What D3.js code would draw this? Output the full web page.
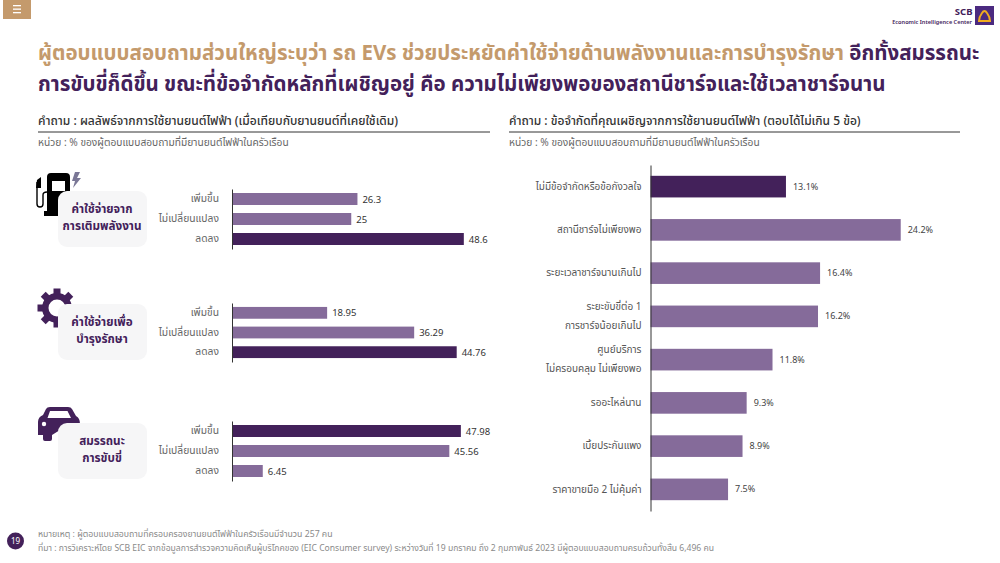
<!DOCTYPE html>
<html>
<head>
<meta charset="utf-8">
<script src="https://cdn.jsdelivr.net/npm/d3@7"></script>
<style>
  html, body { margin: 0; padding: 0; background: #fff; }
  text { font-family: "Noto Sans", "Noto Sans Thai", "Open Sans", "DejaVu Sans", sans-serif; }
</style>
</head>
<body>
<main></main>
<script>
const width = 1000;
const height = 563;
const dark = '#43215a';
const light = '#856b9a';
const gold = '#c49a6c';

// left charts
const changeLabels = ['เพิ่มขึ้น', 'ไม่เปลี่ยนแปลง', 'ลดลง'];
const energyValues = [26.3, 25, 48.6];
const maintValues = [18.95, 36.29, 44.76];
const driveValues = [47.98, 45.56, 6.45];

// right chart
const limitLabels = [
  ['ไม่มีข้อจำกัดหรือข้อกังวลใจ'],
  ['สถานีชาร์จไม่เพียงพอ'],
  ['ระยะเวลาชาร์จนานเกินไป'],
  ['ระยะขับขี่ต่อ 1', 'การชาร์จน้อยเกินไป'],
  ['ศูนย์บริการ', 'ไม่ครอบคลุม ไม่เพียงพอ'],
  ['รออะไหล่นาน'],
  ['เบี้ยประกันแพง'],
  ['ราคาขายมือ 2 ไม่คุ้มค่า']
];
const limitValues = [13.1, 24.2, 16.4, 16.2, 11.8, 9.3, 8.9, 7.5];

const svg = d3.select('main').append('svg')
  .attr('width', width)
  .attr('height', height)
  .style('display', 'block');

const addText = (x, y, str, size, fill, weight, anchor) => {
  return svg.append('text')
    .attr('x', x).attr('y', y)
    .attr('font-size', size)
    .attr('fill', fill)
    .attr('font-weight', weight || 400)
    .attr('text-anchor', anchor || 'start')
    .text(str);
};

const createHeader = () => {
  svg.append('rect').attr('x', 3).attr('width', 28).attr('height', 19).attr('fill', gold);
  [5, 8.5, 12].forEach(y => {
    svg.append('rect').attr('x', 13).attr('y', y).attr('width', 8).attr('height', 1.3).attr('fill', '#fff');
  });

  addText(972.5, 15, 'SCB', 9.5, dark, 700, 'end');
  addText(972, 23.5, 'Economic Intelligence Center', 5.6, dark, 600, 'end');
  svg.append('rect').attr('x', 975).attr('y', 6).attr('width', 19).attr('height', 19).attr('fill', '#4b2a80');
  svg.append('path')
    .attr('d', 'M979 21 Q979 17 982 13 Q984.5 9 987 13 Q990 17 990 21 Z')
    .attr('fill', 'none').attr('stroke', '#f0ab1e').attr('stroke-width', 2);

  const t1 = addText(38, 60, 'ผู้ตอบแบบสอบถามส่วนใหญ่ระบุว่า รถ EVs ช่วยประหยัดค่าใช้จ่ายด้านพลังงานและการบำรุงรักษา ', 20.5, gold, 700);
  t1.append('tspan').attr('fill', dark).text('อีกทั้งสมรรถนะ');
  addText(38, 90.5, 'การขับขี่ก็ดีขึ้น ขณะที่ข้อจำกัดหลักที่เผชิญอยู่ คือ ความไม่เพียงพอของสถานีชาร์จและใช้เวลาชาร์จนาน', 20.5, dark, 700);

  addText(38, 125, 'คำถาม : ผลลัพธ์จากการใช้ยานยนต์ไฟฟ้า (เมื่อเทียบกับยานยนต์ที่เคยใช้เดิม)', 12.05, '#333', 500);
  addText(509, 125, 'คำถาม : ข้อจำกัดที่คุณเผชิญจากการใช้ยานยนต์ไฟฟ้า (ตอบได้ไม่เกิน 5 ข้อ)', 12, '#333', 500);
  svg.append('line').attr('x1', 38).attr('x2', 490).attr('y1', 132).attr('y2', 132).attr('stroke', '#333');
  svg.append('line').attr('x1', 509).attr('x2', 960).attr('y1', 132).attr('y2', 132).attr('stroke', '#333');
  addText(38, 146, 'หน่วย : % ของผู้ตอบแบบสอบถามที่มียานยนต์ไฟฟ้าในครัวเรือน', 10.2, '#666');
  addText(509, 146, 'หน่วย : % ของผู้ตอบแบบสอบถามที่มียานยนต์ไฟฟ้าในครัวเรือน', 10.2, '#666');
};

const createFooter = () => {
  svg.append('circle').attr('cx', 15.5).attr('cy', 541).attr('r', 8.5).attr('fill', dark);
  addText(15.5, 544, '19', 8, '#fff', 400, 'middle');
  addText(38, 537, 'หมายเหตุ : ผู้ตอบแบบสอบถามที่ครอบครองยานยนต์ไฟฟ้าในครัวเรือนมีจำนวน 257 คน', 8.7, '#8a8a8a');
  addText(38, 551, 'ที่มา : การวิเคราะห์โดย SCB EIC จากข้อมูลการสำรวจความคิดเห็นผู้บริโภคของ (EIC Consumer survey) ระหว่างวันที่ 19 มกราคม ถึง 2 กุมภาพันธ์ 2023 มีผู้ตอบแบบสอบถามครบถ้วนทั้งสิ้น 6,496 คน', 8.6, '#8a8a8a');
};

// each small chart has its own x scale, the maintenance one runs a bit wider
const createSmallChart = (values, top, bottom, xEnd) => {
  const x = d3.scaleLinear().domain([0, 50]).range([232, xEnd]);
  const y = d3.scaleBand().domain(changeLabels).range([top, bottom]).paddingInner(0.4).paddingOuter(0.2);
  const maxV = d3.max(values);
  const g = svg.append('g');

  g.selectAll('rect').data(values).enter().append('rect')
    .attr('x', x(0))
    .attr('y', (d, i) => y(changeLabels[i]))
    .attr('width', d => x(d) - x(0))
    .attr('height', y.bandwidth())
    .attr('fill', d => d === maxV ? dark : light);

  g.selectAll('.val').data(values).enter().append('text')
    .attr('class', 'val')
    .attr('x', d => x(d) + 5)
    .attr('y', (d, i) => y(changeLabels[i]) + y.bandwidth() / 2 + 3.5)
    .attr('font-size', 9.5)
    .attr('fill', '#333')
    .text(d => d);

  const axis = svg.append('g')
    .attr('transform', 'translate(' + x(0) + ',0)')
    .call(d3.axisLeft(y).tickSize(0).tickPadding(13));
  axis.select('.domain').attr('stroke', '#333').attr('stroke-width', 1);
  axis.selectAll('text').attr('font-size', 10.3).attr('fill', '#666').attr('font-family', null);
};

const createLimitChart = () => {
  const x = d3.scaleLinear().domain([0, 25]).range([650.5, 909]);
  const y = d3.scaleBand().domain(d3.range(limitValues.length)).range([165, 511]).paddingInner(0.5).paddingOuter(0.25);
  const maxIndex = 0;

  svg.selectAll('.limit').data(limitValues).enter().append('rect')
    .attr('class', 'limit')
    .attr('x', x(0))
    .attr('y', (d, i) => y(i))
    .attr('width', d => x(d) - x(0))
    .attr('height', y.bandwidth())
    .attr('fill', (d, i) => i === maxIndex ? dark : light);

  svg.selectAll('.limitVal').data(limitValues).enter().append('text')
    .attr('class', 'limitVal')
    .attr('x', d => x(d) + 7)
    .attr('y', (d, i) => y(i) + y.bandwidth() / 2 + 3)
    .attr('font-size', 9)
    .attr('fill', '#444')
    .text(d => d + '%');

  const axis = svg.append('g')
    .attr('transform', 'translate(' + x(0) + ',0)')
    .call(d3.axisLeft(y).tickSize(0).tickPadding(9).tickFormat(''));
  axis.select('.domain').attr('stroke', '#333').attr('stroke-width', 1);

  axis.selectAll('.tick text').each(function (d) {
    const lines = limitLabels[d];
    const sel = d3.select(this).attr('font-size', 10).attr('fill', '#555').attr('font-family', null);
    lines.forEach((line, k) => {
      sel.append('tspan')
        .attr('x', -9)
        .attr('y', lines.length === 1 ? 0 : (k === 0 ? -9.5 : 9.5))
        .attr('dy', '0.32em')
        .text(line);
    });
  });
};

// category boxes and their icons
const createBox = (y, lines) => {
  svg.append('rect').attr('x', 58).attr('y', y).attr('width', 89).attr('height', 56).attr('rx', 9).attr('fill', '#f6f6f7');
  lines.forEach((line, i) => {
    addText(102, y + 22 + i * 17, line, 11.7, dark, 700, 'middle');
  });
};

const createIcons = () => {
  // pump
  svg.append('path')
    .attr('d', 'M47 177 Q47 173 51 173 H66 Q70 173 70 177 V211 H74 V216 H44 V211 H47 Z M52 181 V191 H65 V181 Z')
    .attr('fill', '#000').attr('fill-rule', 'evenodd');
  svg.append('path')
    .attr('d', 'M37 182 V204 Q37 207 40 207 Q43 207 43 204 V195 Q43 192 47 192')
    .attr('fill', 'none').attr('stroke', '#000').attr('stroke-width', 1.4);
  svg.append('path').attr('d', 'M37 180 L41 177 L41 188 L36 188 Z').attr('fill', '#000');
  svg.append('path').attr('d', 'M75 172 L80 172 L77 178 L81 178 L73 188 L75 181 L72 181 Z').attr('fill', '#7a7796');

  // gear
  const gearPath = d3.arc().innerRadius(8.5).outerRadius(15).startAngle(0).endAngle(2 * Math.PI);
  const gear = svg.append('g').attr('transform', 'translate(57,308)');
  gear.append('path').attr('d', gearPath()).attr('fill', dark);
  d3.range(8).forEach(i => {
    gear.append('rect').attr('x', -3.5).attr('y', -19.5).attr('width', 7).attr('height', 6)
      .attr('fill', dark).attr('transform', 'rotate(' + i * 45 + ')');
  });

  // car
  svg.append('path')
    .attr('d', 'M38 422 Q38 417 43 415 L46 409 Q47 407 50 407 H68 Q71 407 72 409 L76 416 Q80 418 80 424 V430 H60 L52 435 V439 Q52 441 50 441 H45 Q43 441 43 439 V435 H38 Z M50 411 L47.5 418 H71 L67.5 411 Z')
    .attr('fill', dark).attr('fill-rule', 'evenodd');
  svg.append('circle').attr('cx', 44).attr('cy', 424).attr('r', 2.2).attr('fill', '#fff');
};

const driver = () => {
  createHeader();
  createIcons();
  createBox(191, ['ค่าใช้จ่ายจาก', 'การเติมพลังงาน']);
  createBox(304, ['ค่าใช้จ่ายเพื่อ', 'บำรุงรักษา']);
  createBox(423, ['สมรรถนะ', 'การขับขี่']);
  createSmallChart(energyValues, 189, 249, 470.5);
  createSmallChart(maintValues, 303, 362, 483);
  createSmallChart(driveValues, 421, 481, 470.5);
  createLimitChart();
  createFooter();
};
driver();
</script>
</body>
</html>
